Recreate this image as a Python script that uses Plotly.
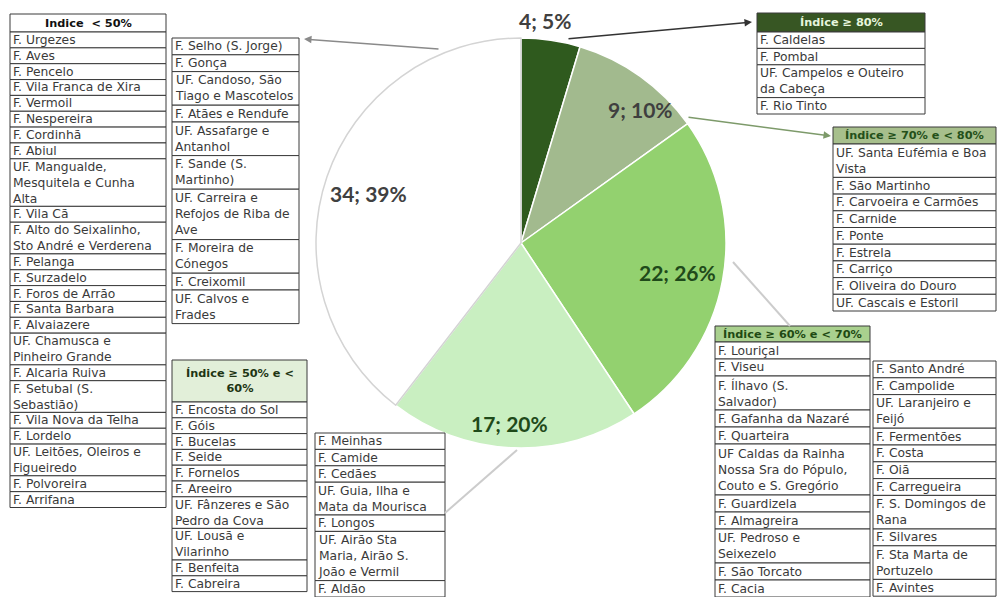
import plotly.graph_objects as go

W, H = 998, 597

# ---------------- pie data ----------------
pie_labels = ["Índice ≥ 80%", "Índice ≥ 70% e < 80%", "Índice ≥ 60% e < 70%",
              "Índice ≥ 50% e < 60%", "Índice < 50%"]
pie_values = [4, 9, 22, 17, 34]
pie_pct = ["5%", "10%", "26%", "20%", "39%"]
pie_colors = ["#2f5a1e", "#a2ba8e", "#93d16f", "#c9efc1", "#ffffff"]
pie_text_colors = ["#404040", "#3f3f3f", "#1f4a1a", "#1f4a1a", "#404040"]

# ---------------- table data ----------------
hdr_lt50 = "Indice  < 50%"
names_lt50_a = ["F. Urgezes", "F. Aves", "F. Pencelo", "F. Vila Franca de Xira", "F. Vermoil",
                "F. Nespereira", "F. Cordinhã", "F. Abiul",
                "UF. Mangualde,<br>Mesquitela e Cunha<br>Alta", "F. Vila Cã",
                "F. Alto do Seixalinho,<br>Sto André e Verderena", "F. Pelanga", "F. Surzadelo",
                "F. Foros de Arrão", "F. Santa Barbara", "F. Alvaiazere",
                "UF. Chamusca e<br>Pinheiro Grande", "F. Alcaria Ruiva", "F. Setubal (S.<br>Sebastião)",
                "F. Vila Nova da Telha", "F. Lordelo", "UF. Leitões, Oleiros e<br>Figueiredo",
                "F. Polvoreira", "F. Arrifana"]
names_lt50_b = ["F. Selho (S. Jorge)", "F. Gonça", "UF. Candoso, São<br>Tiago e Mascotelos",
                "F. Atães e Rendufe", "UF. Assafarge e<br>Antanhol", "F. Sande (S.<br>Martinho)",
                "UF. Carreira e<br>Refojos de Riba de<br>Ave", "F. Moreira de<br>Cónegos",
                "F. Creixomil", "UF. Calvos e<br>Frades"]

hdr_50_60 = "Índice ≥ 50% e <<br>60%"
names_50_60_a = ["F. Encosta do Sol", "F. Góis", "F. Bucelas", "F. Seide", "F. Fornelos", "F. Areeiro",
                 "UF. Fânzeres e São<br>Pedro da Cova", "UF. Lousã e<br>Vilarinho", "F. Benfeita",
                 "F. Cabreira"]
names_50_60_b = ["F. Meinhas", "F. Camide", "F. Cedães", "UF. Guia, Ilha e<br>Mata da Mourisca",
                 "F. Longos", "UF. Airão Sta<br>Maria, Airão S.<br>João e Vermil", "F. Aldão"]

hdr_60_70 = "Índice ≥ 60% e < 70%"
names_60_70_a = ["F. Louriçal", "F. Viseu", "F. Ílhavo (S.<br>Salvador)", "F. Gafanha da Nazaré",
                 "F. Quarteira", "UF Caldas da Rainha<br>Nossa Sra do Pópulo,<br>Couto e S. Gregório",
                 "F. Guardizela", "F. Almagreira", "UF. Pedroso e<br>Seixezelo", "F. São Torcato",
                 "F. Cacia"]
names_60_70_b = ["F. Santo André", "F. Campolide", "UF. Laranjeiro e<br>Feijó", "F. Fermentões",
                 "F. Costa", "F. Oiã", "F. Carregueira", "F. S. Domingos de<br>Rana", "F. Silvares",
                 "F. Sta Marta de<br>Portuzelo", "F. Avintes"]

hdr_70_80 = "Índice ≥ 70% e < 80%"
names_70_80 = ["UF. Santa Eufémia e Boa<br>Vista", "F. São Martinho", "F. Carvoeira e Carmões",
               "F. Carnide", "F. Ponte", "F. Estrela", "F. Carriço", "F. Oliveira do Douro",
               "UF. Cascais e Estoril"]

hdr_80 = "Índice ≥ 80%"
names_80 = ["F. Caldelas", "F. Pombal", "UF. Campelos e Outeiro<br>da Cabeça", "F. Rio Tinto"]


def X(p):
    return p / W


def Y(p):
    return 1 - p / H


shapes = []
annotations = []
BORDER = "#3a3a3a"
TXT = "#3a3a3a"
FONT = "DejaVu Sans"
FS = 12.3


def table(x0, x1, top, rows, line_h, header=None, header_h=0, header_bg="white",
          header_fg="black"):
    y = top
    if header is not None:
        shapes.append(dict(type="rect", xref="paper", yref="paper", x0=X(x0), x1=X(x1),
                           y0=Y(top), y1=Y(top + header_h), fillcolor=header_bg,
                           line=dict(color=BORDER, width=1)))
        annotations.append(dict(xref="paper", yref="paper", x=X((x0 + x1) / 2),
                                y=Y(top + header_h / 2), text="<b>" + header + "</b>",
                                showarrow=False, xanchor="center", yanchor="middle",
                                font=dict(family=FONT, size=11.3, color=header_fg)))
        y = top + header_h
    for r in rows:
        n = r.count("<br>") + 1
        h = n * line_h
        shapes.append(dict(type="rect", xref="paper", yref="paper", x0=X(x0), x1=X(x1),
                           y0=Y(y), y1=Y(y + h), fillcolor="white",
                           line=dict(color=BORDER, width=1)))
        annotations.append(dict(xref="paper", yref="paper", x=X(x0 + 0.5), y=Y(y + h / 2),
                                text=r, showarrow=False, xanchor="left", yanchor="middle",
                                align="left",
                                font=dict(family=FONT, size=FS, color=TXT)))
        y += h


table(10, 166, 14, names_lt50_a, 15.85, header=hdr_lt50, header_h=18,
      header_bg="white", header_fg="#111111")
table(172, 299, 38, names_lt50_b, 16.8)
table(172, 307, 360, names_50_60_a, 15.8, header=hdr_50_60, header_h=42,
      header_bg="#e2efd9", header_fg="#1e3514")
table(315, 445, 433, names_50_60_b, 16.4)
table(757, 925, 13, names_80, 16.4, header=hdr_80, header_h=19,
      header_bg="#375623", header_fg="#e6f5dc")
table(833, 996, 127, names_70_80, 16.7, header=hdr_70_80, header_h=17,
      header_bg="#a7bf8c", header_fg="#24501a")
table(715, 870, 326, names_60_70_a, 17.0, header=hdr_60_70, header_h=16,
      header_bg="#a9d08e", header_fg="#1f4a14")
table(873, 996, 361, names_60_70_b, 16.8)

# leader arrows from pie to tables (head, tail in pixels)
arrows = [
    dict(head=(752, 22), tail=(567, 39), color="#333333", width=1.5),
    dict(head=(831, 136), tail=(687, 117), color="#7d9a6a", width=1.5),
    dict(head=(304, 39), tail=(440, 49), color="#8a8a8a", width=1.5),
]
for a in arrows:
    annotations.append(dict(xref="paper", yref="paper", x=X(a["head"][0]), y=Y(a["head"][1]),
                            ax=a["tail"][0] - a["head"][0], ay=a["tail"][1] - a["head"][1],
                            text="", showarrow=True, arrowhead=2, arrowsize=1,
                            arrowwidth=a["width"], arrowcolor=a["color"]))

# faint leader lines
shapes.append(dict(type="line", xref="paper", yref="paper", x0=X(733), y0=Y(262),
                   x1=X(790), y1=Y(326), line=dict(color="#cccccc", width=2)))
shapes.append(dict(type="line", xref="paper", yref="paper", x0=X(517), y0=Y(450),
                   x1=X(445), y1=Y(513), line=dict(color="#cccccc", width=2)))

# pie slice labels ("value; pct"), positioned like the reference
label_pos = [(545, 20), (640, 110), (677, 272), (510, 423), (368, 193)]
for v, p, c, (lx, ly) in zip(pie_values, pie_pct, pie_text_colors, label_pos):
    annotations.append(dict(xref="paper", yref="paper", x=X(lx), y=Y(ly),
                            text="<b>%d; %s</b>" % (v, p), showarrow=False,
                            xanchor="center", yanchor="middle",
                            font=dict(family="Lato", size=21, color=c)))

cx, cy, r = 521, 243, 205
fig = go.Figure(go.Pie(
    labels=pie_labels, values=pie_values,
    sort=False, direction="clockwise", rotation=0,
    marker=dict(colors=pie_colors,
                line=dict(color=["white", "white", "white", "white", "#d4d4d4"], width=1.5)),
    textinfo="none",
    hoverinfo="label+value", showlegend=False,
    domain=dict(x=[X(cx - r), X(cx + r)], y=[Y(cy + r), Y(cy - r)]),
))

fig.update_layout(
    width=W, height=H, margin=dict(l=0, r=0, t=0, b=0),
    paper_bgcolor="white", plot_bgcolor="white",
    shapes=shapes, annotations=annotations,
)
fig.write_html("out.html", config={"displayModeBar": False},
               post_script="document.body.style.margin='0';document.body.style.padding='0';")
